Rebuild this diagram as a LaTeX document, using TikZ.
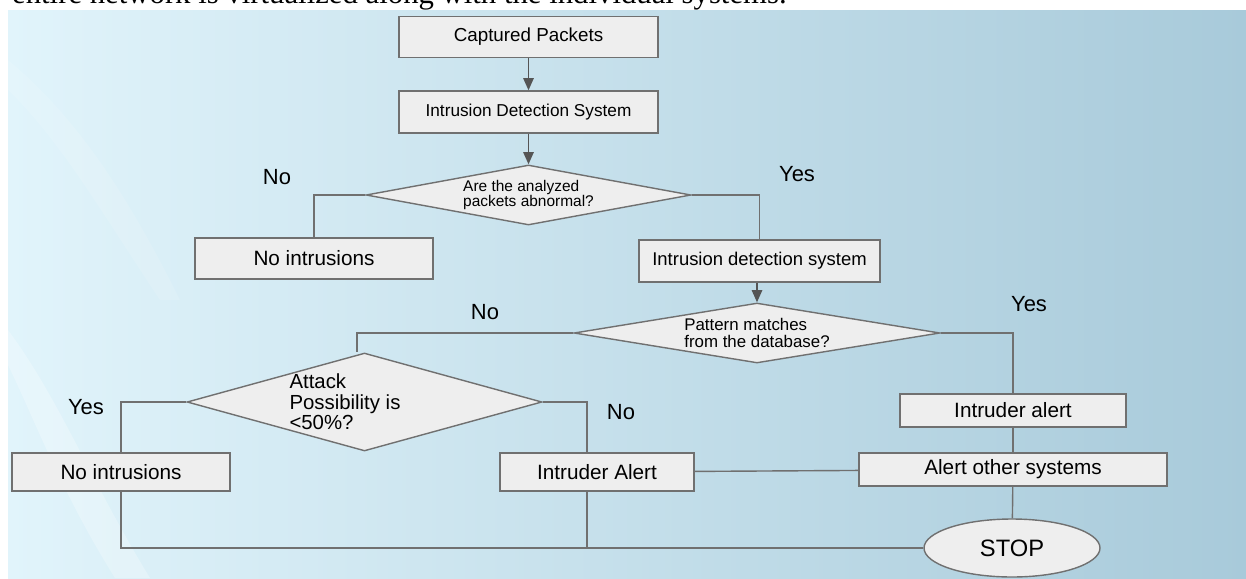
\documentclass[tikz,border=0pt]{standalone}
\usepackage{fontspec}
\setmainfont{Liberation Sans}
\newfontfamily\pageFont{Liberation Serif}
\usepackage{xcolor}
\definecolor{BOXCOLOR}{HTML}{EEEEEE}
\definecolor{LINECOLOR}{HTML}{707070}
\definecolor{ARROWCOLOR}{HTML}{555555}
\definecolor{BGLEFT}{HTML}{E1F4FB}
\definecolor{BGMID}{HTML}{CDE7F2}
\definecolor{BGRIGHT}{HTML}{A8CADA}
\usepackage{tikz}
\usetikzlibrary{shapes,arrows.meta,positioning,calc,backgrounds}
\newcommand\textSize[1]{\fontsize{#1}{#1}\selectfont}
\tikzset{
  basic-style/.style = {
    draw=LINECOLOR, line width=0.8pt,
    fill=BOXCOLOR,
    inner sep=0pt,
    font=\textSize{#1}
  },
  basic-style/.default = 11.8pt,
  box-style/.style = {
    basic-style=#1, rectangle
  },
  box-style/.default = 11.8pt,
  question-style/.style = {
    basic-style=#1, diamond, align=left
  },
  stop-style/.style = {
    basic-style=13.5pt, ellipse
  },
  answer-style/.style = {
    font=\textSize{12.5pt}, inner sep=0pt
  },
  line-style/.style = {
    draw=LINECOLOR, line width=0.8pt
  },
  arrow-style/.style = {
    line-style, draw=ARROWCOLOR,
    -{Triangle[length=7pt,width=6pt]}
  }
}

\begin{document}
\begin{tikzpicture}[x=0.02cm, y=-0.02cm]
  \useasboundingbox (0,0) rectangle (1246,578);
  % page behind the chart
  \fill[white] (0,0) rectangle (1246,578);
  \shade[left color=BGLEFT, middle color=BGMID, right color=BGRIGHT]
    (8,10) rectangle (1246,578);
  \fill[white, opacity=0.25] (8,330) .. controls (60,400) and (90,480) .. (150,578)
    -- (115,578) .. controls (60,490) and (35,420) .. (8,365) -- cycle;
  \fill[white, opacity=0.12] (8,60) .. controls (80,120) and (130,200) .. (180,300)
    -- (160,300) .. controls (100,210) and (60,140) .. (8,90) -- cycle;
  \node[font=\pageFont\textSize{17.5pt}, inner sep=0pt, anchor=base east] (pagetext)
    at (787,4) {entire network is virtualized along with the individual systems.};

  % chart
  \node[box-style=10.7pt, minimum width=5.18cm, minimum height=0.82cm] (captured)
    at (528.5,37) {Captured Packets};
  \node[box-style=9.8pt, minimum width=5.18cm, minimum height=0.84cm] (ids)
    at (528.5,112) {Intrusion Detection System};
  \node[question-style=8.8pt, aspect=5.4, minimum width=6.5cm, minimum height=1.2cm] (abnormal)
    at (528.5,195) {Are the analyzed\\packets abnormal?};
  \node[box-style, minimum width=4.76cm, minimum height=0.82cm] (noIntrusion)
    at (314,258.5) {No intrusions};
  \node[box-style=10.5pt, minimum width=4.82cm, minimum height=0.84cm] (idsCheck)
    at (759.5,261) {Intrusion detection system};
  \node[question-style=9.6pt, aspect=6.1, minimum width=7.32cm, minimum height=1.2cm] (pattern)
    at (757,333) {Pattern matches\\from the database?};
  \node[question-style=11.6pt, minimum width=7.1cm, minimum height=1.96cm] (attack)
    at (364.5,402) {};
  \node[font=\textSize{11.6pt}, align=left, inner sep=0pt] (attackText)
    at (345,402) {Attack\\Possibility is\\<50\%?};
  \node[box-style, minimum width=4.36cm, minimum height=0.76cm] (noIntrusionB)
    at (121,472) {No intrusions};
  \node[box-style, minimum width=3.88cm, minimum height=0.76cm] (alertA)
    at (597,472) {Intruder Alert};
  \node[box-style, minimum width=4.52cm, minimum height=0.66cm] (alertB)
    at (1013,410.5) {Intruder alert};
  \node[box-style, minimum width=6.16cm, minimum height=0.66cm] (alertOther)
    at (1013,469.5) {Alert other systems};
  \node[stop-style, minimum width=3.52cm, minimum height=1.16cm] (stop)
    at (1012,548) {STOP};

  % answers
  \node[answer-style] (noA) at (277,177) {No};
  \node[answer-style] (yesA) at (797,174) {Yes};
  \node[answer-style] (noB) at (485,312) {No};
  \node[answer-style] (yesB) at (1029,304) {Yes};
  \node[answer-style] (yesC) at (86,407) {Yes};
  \node[answer-style] (noC) at (621,412) {No};

  % connectors
  \draw[arrow-style] (captured) -- (ids);
  \draw[arrow-style] (ids) -- (abnormal);
  \draw[line-style] (abnormal.west) -| (noIntrusion.north);
  \draw[line-style] (abnormal.east) -| (idsCheck.north);
  \draw[arrow-style] (idsCheck.south -| pattern.north) -- (pattern.north);
  \draw[line-style] (pattern.west) -| ([xshift=-0.15cm]attack.north);
  \draw[line-style] (pattern.east) -| (alertB.north);
  \draw[line-style] (attack.west) -| (noIntrusionB.north);
  \draw[line-style] (attack.east) -| ([xshift=-0.2cm]alertA.north);
  \draw[line-style] (alertB) -- (alertOther);
  \draw[line-style] (alertA) -- (alertOther);
  \draw[line-style] (alertOther) -- (stop);
  \draw[line-style] (noIntrusionB.south) |- (stop.west);
  \draw[line-style] ([xshift=-0.2cm]alertA.south) -- ([xshift=-0.2cm]alertA.south |- stop.west);
\end{tikzpicture}
\end{document}
